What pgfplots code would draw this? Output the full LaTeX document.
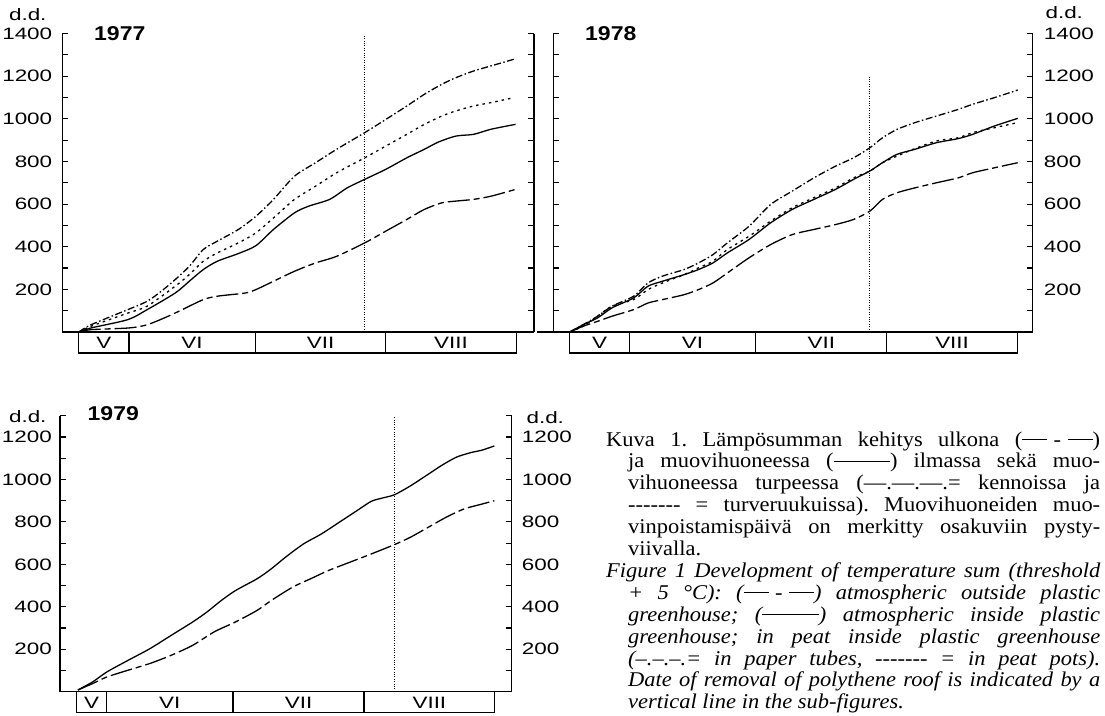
\documentclass[border=0pt]{standalone}
\usepackage{fontspec}
\usepackage{pgfplots}
\pgfplotsset{compat=1.18}
\newfontfamily\ticfont[FakeStretch=1.36]{Liberation Sans}
\newfontfamily\yearfont[FakeStretch=1.15]{Liberation Sans}
\newfontfamily\capfont[FakeStretch=1.07]{Liberation Serif}
\newcommand\tf{\ticfont\fontsize{16.5}{19}\selectfont}
\newcommand\dl{\rule[0.3em]{1.2em}{0.05em}}
\newcommand\Dl{\rule[0.3em]{2.7em}{0.05em}}
\newcommand\hy{-{}-{}-{}-{}-{}-{}-}

\pgfplotsset{
 dd/.style={
  scale only axis, clip=false, anchor=south west,
  axis x line*=bottom, axis y line*=box,
  xtick=\empty, ymin=0,
  major tick length=6pt,
  tick style={line width=1.1pt, black},
  axis line style={line width=1.4pt, black},
  every axis plot/.append style={line width=1.3pt, black, smooth, tension=0.45, no markers},
  yticklabel style={font=\tf, inner sep=0pt},
 },
 inside/.style={solid},
 outside/.style={dash pattern=on 22pt off 4pt on 6pt off 4pt},
 tubes/.style={dash pattern=on 7pt off 2.5pt on 1.5pt off 2.5pt},
 pots/.style={dash pattern=on 2.5pt off 4pt},
 roof/.style={line width=1.1pt, dash pattern=on 1pt off 1.4pt, sharp plot},
}

\newcommand\monthbox[1]{%
  \draw[line width=1.2pt] (axis cs:#1,0) rectangle ([yshift=-21pt]axis cs:92,0);
  \draw[line width=1.2pt] (axis cs:0,0) -- ([yshift=-21pt]axis cs:0,0);
  \draw[line width=1.2pt] (axis cs:30,0) -- ([yshift=-21pt]axis cs:30,0);
  \draw[line width=1.2pt] (axis cs:61,0) -- ([yshift=-21pt]axis cs:61,0);
  \node[font=\tf] at ([yshift=-11pt]axis cs:#1/2,0) {V};
  \node[font=\tf] at ([yshift=-11pt]axis cs:15,0) {VI};
  \node[font=\tf] at ([yshift=-11pt]axis cs:45.5,0) {VII};
  \node[font=\tf] at ([yshift=-11pt]axis cs:76.5,0) {VIII};
}

\begin{document}
\begin{tikzpicture}
\useasboundingbox (0pt,0pt) rectangle (1105pt,-715pt);

% ---------------- 1977 ----------------
\begin{axis}[dd, at={(62.4pt,-332pt)}, width=471.6pt, height=298.5pt,
  xmin=-15.8, xmax=96.2, ymax=1400,
  ytick={100,200,...,1400}, yticklabels={,200,,400,,600,,800,,1000,,1200,,1400},
  yticklabel pos=left, yticklabel shift=10pt]
\addplot[inside] coordinates {(-11.9,0) (-9,19) (-0.25,58) (4.33,105) (11,183) (14.33,238) (17.67,293) (21,332) (26,368) (30.17,405) (34.33,481) (39.33,559) (42.67,590) (47.67,622) (51.83,676) (56,716) (61,763) (66,817) (70.17,857) (73.5,891) (77.67,919) (81.83,927) (86,951) (91.83,974)};
\addplot[tubes] coordinates {(-11.9,0) (-9,34) (-0.25,105) (4.33,144) (7.67,191) (11,246) (14.33,308) (17.67,387) (21,426) (26,481) (30.17,543) (34.33,622) (39.33,731) (44.33,794) (49.33,857) (56,935) (61,997) (66,1060) (70.17,1115) (74.33,1162) (77.67,1193) (81.83,1224) (86,1248) (91.4,1279)};
\addplot[pots] coordinates {(-11.9,0) (-9,27) (-0.25,89) (4.33,121) (11,215) (14.33,269) (17.67,332) (21,371) (26,418) (30.17,465) (34.33,535) (39.33,622) (44.33,684) (49.33,747) (56,817) (61,872) (66,927) (70.17,974) (74.33,1013) (77.67,1037) (81.83,1060) (86,1076) (91.4,1099)};
\addplot[outside] coordinates {(-11.9,0) (-9,11) (0,19) (4.33,34) (9.33,74) (12.67,105) (17.67,152) (21,168) (27.67,183) (30.17,199) (34.33,238) (39.33,285) (44.33,324) (49.33,355) (56,418) (61,473) (66,528) (70.17,575) (74.33,606) (77.67,614) (81.83,622) (86,637) (91.83,669)};
\addplot[roof] coordinates {(56,0) (56,1390)};
\monthbox{-11.9}
\end{axis}
\node[font=\tf, anchor=base east] at (50pt,-20pt) {d.d.};
\node[font=\yearfont\bfseries\fontsize{20}{24}\selectfont, anchor=base west, inner sep=0pt] at (94pt,-40pt) {1977};

% ---------------- 1978 ----------------
\begin{axis}[dd, at={(553.3pt,-332pt)}, width=479.4pt, height=298.5pt,
  xmin=-18, xmax=95.6, ymax=1400,
  ytick={100,200,...,1400}, yticklabels={,200,,400,,600,,800,,1000,,1200,,1400},
  yticklabel pos=right, yticklabel shift=11pt]
\addplot[inside] coordinates {(-14.1,0) (-10.94,34) (-7.52,66) (-4.1,113) (1.03,160) (4.44,215) (7.86,238) (12.99,269) (16.41,293) (19.83,324) (23.25,371) (28.38,434) (33.5,512) (38.63,575) (43.76,622) (48.89,669) (53.16,716) (57.01,755) (60,794) (63.42,833) (67.69,857) (72.82,888) (77.95,907) (81.37,927) (86.5,966) (92.05,1002)};
\addplot[pots] coordinates {(-14.1,0) (-10.94,27) (-7.52,74) (-4.1,121) (1.03,152) (4.44,199) (7.86,230) (12.99,269) (16.41,301) (19.83,332) (23.25,387) (28.38,449) (33.5,520) (38.63,583) (43.76,630) (48.89,676) (53.16,723) (57.01,755) (60,794) (63.42,825) (67.69,860) (72.82,896) (77.95,911) (81.37,935) (86.5,958) (92.05,982)};
\addplot[tubes] coordinates {(-14.1,0) (-10.94,34) (-7.52,74) (-4.1,121) (1.03,168) (4.44,230) (7.86,262) (12.99,293) (16.41,324) (19.83,363) (23.25,418) (28.38,496) (33.5,598) (38.63,661) (43.76,723) (48.89,778) (53.16,817) (57.01,864) (60,911) (63.42,950) (67.69,982) (72.82,1013) (77.95,1044) (81.37,1068) (86.5,1099) (92.05,1135)};
\addplot[outside] coordinates {(-14.1,0) (-10.94,27) (-7.52,50) (-4.1,74) (1.03,105) (4.44,136) (7.86,152) (12.99,175) (16.41,199) (19.83,230) (23.25,277) (28.38,348) (33.5,410) (38.63,457) (43.76,481) (48.89,504) (53.16,528) (57.01,567) (60,622) (63.42,653) (67.69,676) (72.82,700) (77.95,723) (81.37,747) (86.5,770) (92.05,794)};
\addplot[roof] coordinates {(57,0) (57,1200)};
\draw[line width=1.4pt] (axis cs:-21.9,0) -- (axis cs:-18,0);
\monthbox{-14.1}
\end{axis}
\node[font=\tf, anchor=base west] at (1042pt,-18pt) {d.d.};
\node[font=\yearfont\bfseries\fontsize{20}{24}\selectfont, anchor=base west, inner sep=0pt] at (585pt,-40pt) {1978};

% ---------------- 1979 ----------------
\begin{axis}[dd, at={(60pt,-691.7pt)}, width=451.7pt, height=275.9pt,
  xmin=-11, xmax=96, ymax=1300,
  ytick={100,200,...,1300}, yticklabels={,200,,400,,600,,800,,1000,,1200,},
  yticklabel pos=left, yticklabel shift=8pt]
\addplot[inside] coordinates {(-6.76,8) (-3.21,47) (0.17,94) (5.24,149) (10.31,203) (15.38,266) (20.46,329) (23.84,376) (27.22,430) (30.6,477) (35.67,532) (39.05,579) (42.43,634) (46.66,696) (50.89,743) (55.11,798) (59.34,853) (62.72,897) (65.26,912) (68.22,928) (72.02,970) (76.25,1025) (79.63,1069) (83.01,1106) (86.39,1127) (88.93,1138) (91.89,1158)};
\addplot[outside] coordinates {(-6.76,8) (-3.21,39) (0.17,70) (5.24,102) (10.31,133) (15.38,172) (20.46,219) (25.53,282) (30.6,329) (35.67,383) (39.05,430) (44.13,493) (48.35,532) (52.58,571) (57.65,610) (62.72,649) (68.22,693) (72.02,728) (76.25,775) (80.47,822) (84.7,861) (88.93,884) (91.89,900)};
\addplot[roof] coordinates {(68.2,0) (68.2,1294)};
\monthbox{-7.0}
\end{axis}
\begin{axis}[dd, at={(60pt,-691.7pt)}, width=451.7pt, height=275.9pt,
  xmin=-11, xmax=96, ymax=1300,
  ytick={100,200,...,1300}, yticklabels={,200,,400,,600,,800,,1000,,1200,},
  yticklabel pos=right, yticklabel shift=10pt]
\addplot[draw=none] coordinates {(0,0)};
\end{axis}
\node[font=\tf, anchor=base east] at (50pt,-422pt) {d.d.};
\node[font=\tf, anchor=base west] at (523pt,-423pt) {d.d.};
\node[font=\yearfont\bfseries\fontsize{20}{24}\selectfont, anchor=base west, inner sep=0pt] at (87.5pt,-420pt) {1979};

% ---------------- caption ----------------
\node[anchor=base west, inner sep=0pt] at (606pt,-446pt) {\parbox[t]{494pt}{%
\capfont\fontsize{21}{21.9}\selectfont\frenchspacing
\makebox[494pt][s]{Kuva 1. Lämpösumman kehitys ulkona (\dl\hspace{0.3em}-\hspace{0.3em}\dl)}\\
\hspace*{22pt}\makebox[472pt][s]{ja muovihuoneessa (\Dl) ilmassa sekä muo-}\\
\hspace*{22pt}\makebox[472pt][s]{vihuoneessa turpeessa (\textemdash.\textemdash.\textemdash.= kennoissa ja}\\
\hspace*{22pt}\makebox[472pt][s]{\hy\ = turveruukuissa). Muovihuoneiden muo-}\\
\hspace*{22pt}\makebox[472pt][s]{vinpoistamispäivä on merkitty osakuviin pysty-}\\
\hspace*{22pt}viivalla.\\
\itshape
\makebox[494pt][s]{Figure 1 Development of temperature sum (threshold}\\
\hspace*{22pt}\makebox[472pt][s]{+ 5 °C): (\dl\hspace{0.3em}-\hspace{0.3em}\dl) atmospheric outside plastic}\\
\hspace*{22pt}\makebox[472pt][s]{greenhouse; (\Dl) atmospheric inside plastic}\\
\hspace*{22pt}\makebox[472pt][s]{greenhouse; in peat inside plastic greenhouse}\\
\hspace*{22pt}\makebox[472pt][s]{(\textendash.\textendash.\textendash.= in paper tubes, \hy\ = in peat pots).}\\
\hspace*{22pt}\makebox[472pt][s]{Date of removal of polythene roof is indicated by a}\\
\hspace*{22pt}vertical line in the sub-figures.}};
\end{tikzpicture}
\end{document}
